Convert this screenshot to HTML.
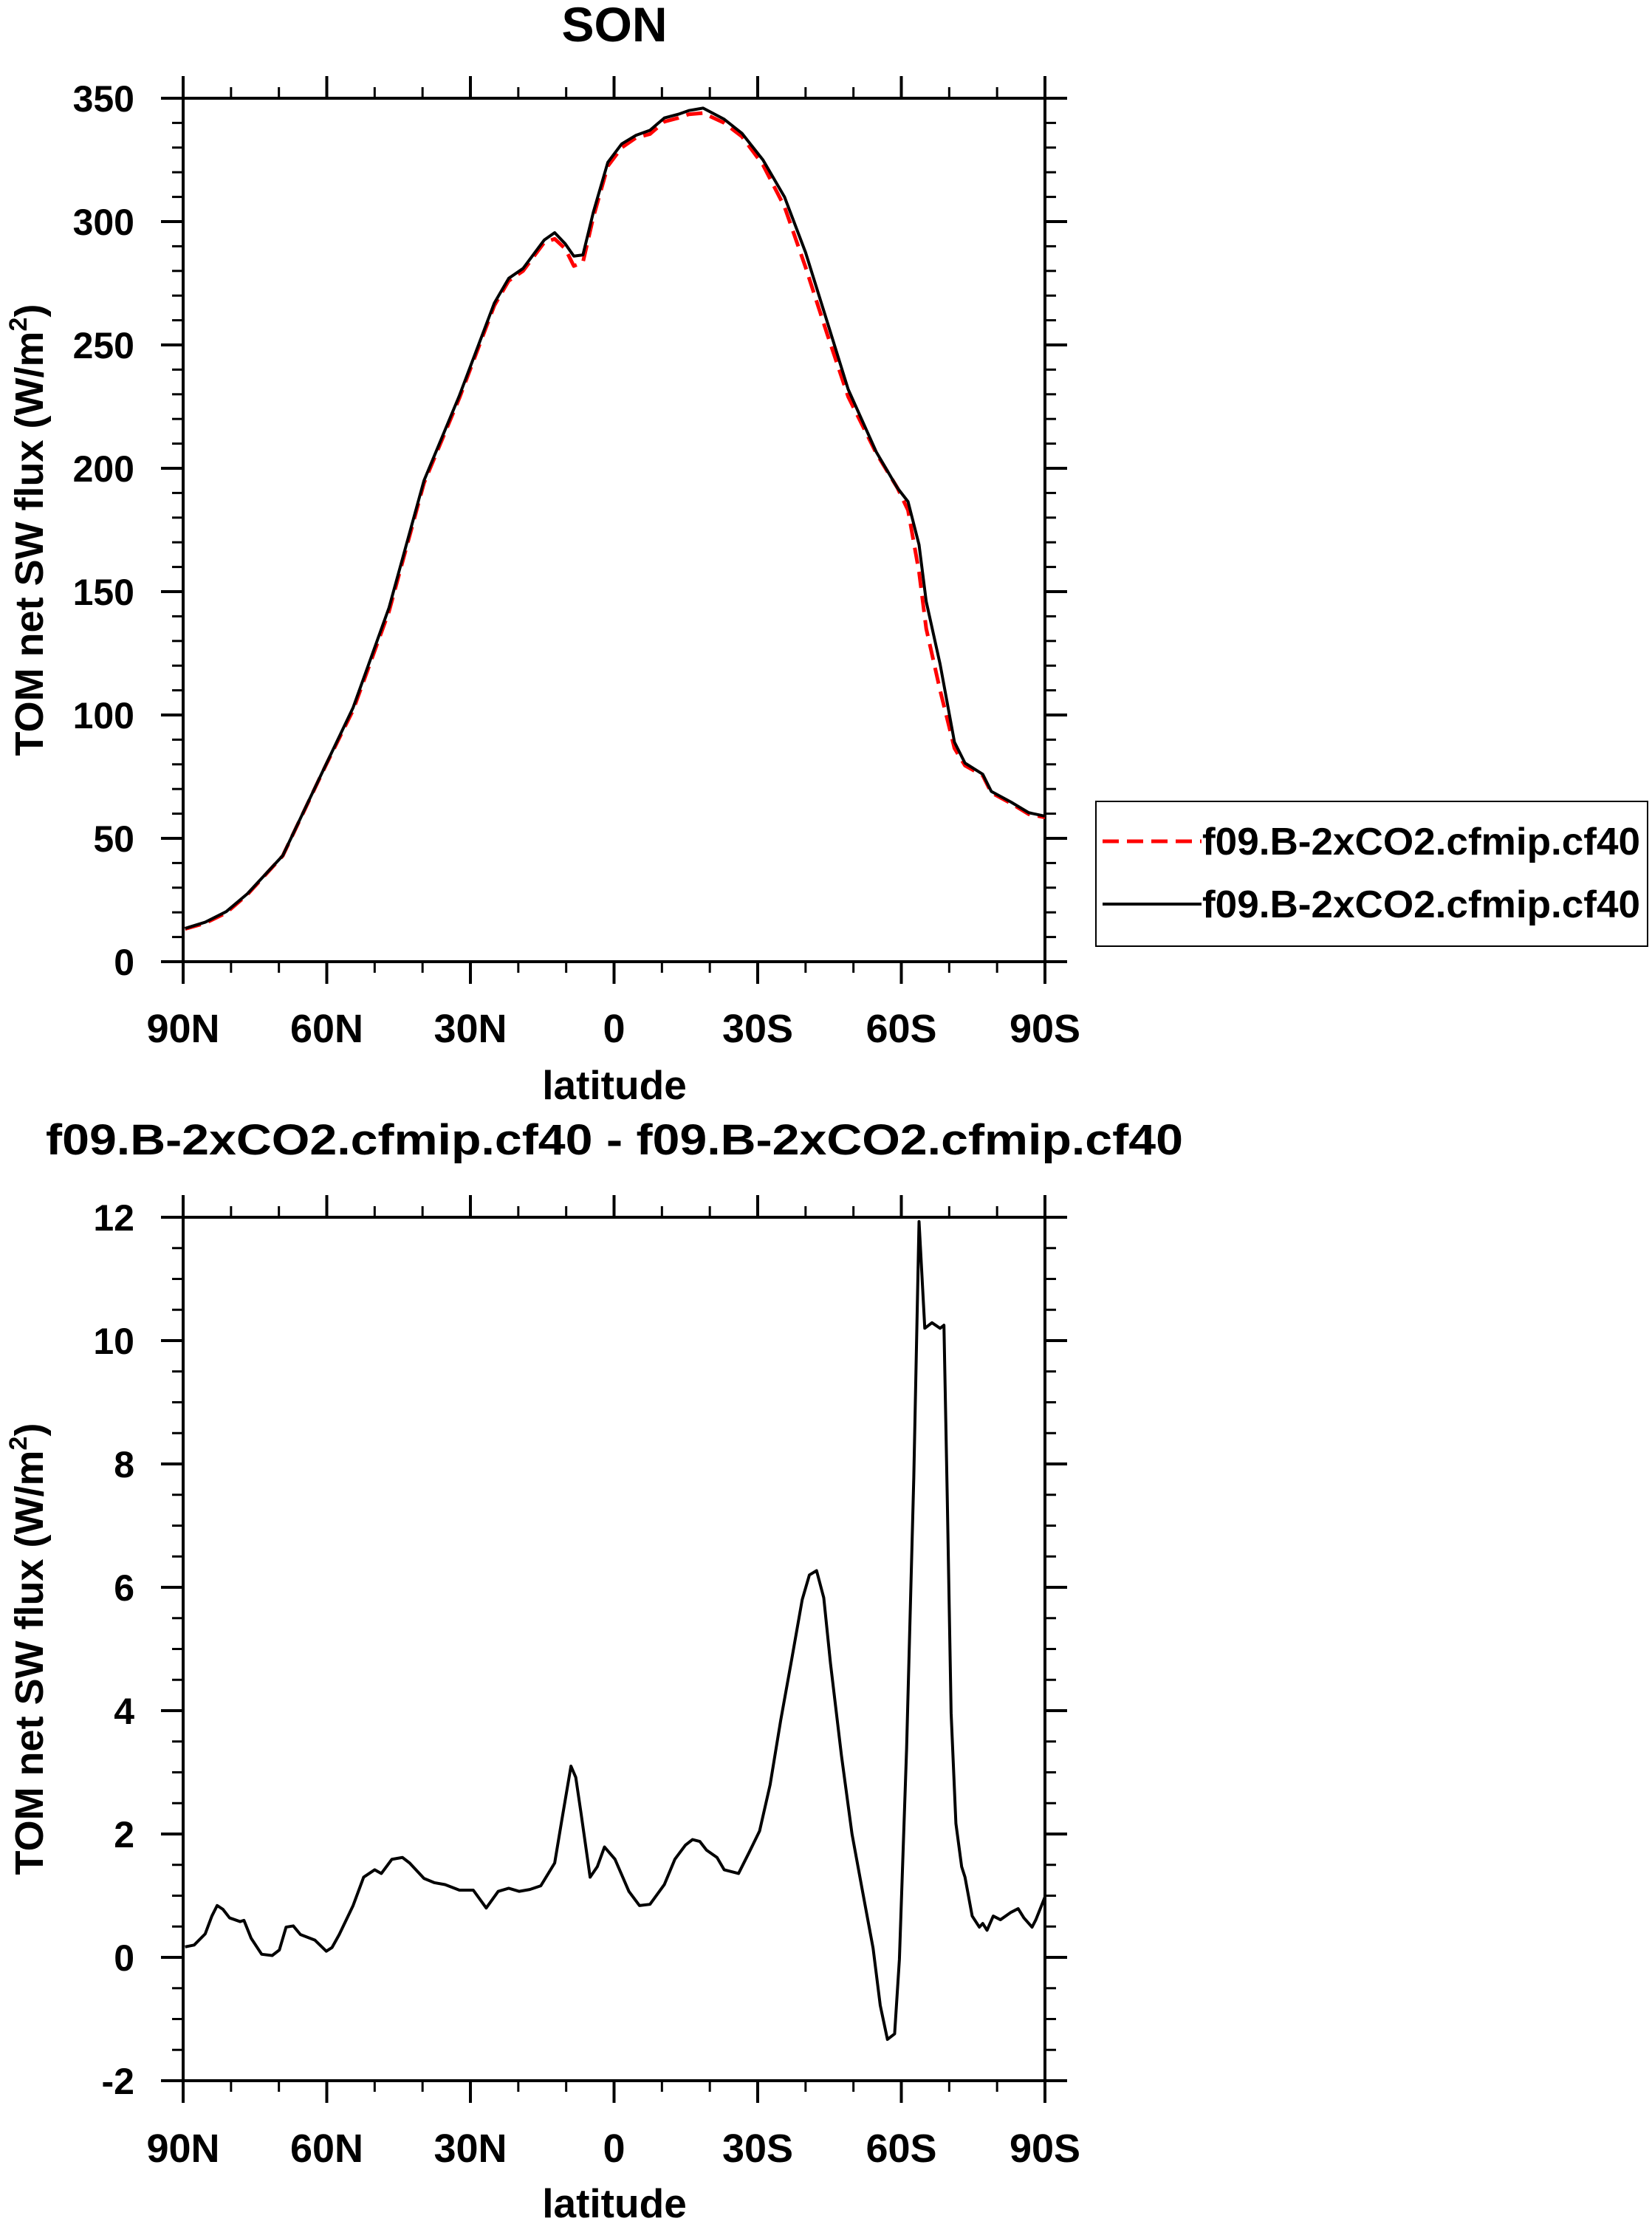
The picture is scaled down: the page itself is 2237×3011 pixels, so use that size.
<!DOCTYPE html>
<html><head><meta charset="utf-8"><style>
html,body{margin:0;padding:0;background:#fff;}
svg{display:block;font-family:"Liberation Sans",Arial,sans-serif;font-weight:bold;}
</style></head><body>
<svg id="chart" width="2237" height="3011" viewBox="0 0 2237 3011" xmlns="http://www.w3.org/2000/svg">
<text x="832" y="56" font-size="66" text-anchor="middle">SON</text>
<text x="62" y="1563" font-size="58" textLength="1540" lengthAdjust="spacingAndGlyphs">f09.B-2xCO2.cfmip.cf40 - f09.B-2xCO2.cfmip.cf40</text>
<g>
<rect x="1484" y="1085" width="747" height="196" fill="none" stroke="#000" stroke-width="2"/>
<line x1="1493" y1="1139" x2="1627" y2="1139" stroke="#ff0000" stroke-width="5" stroke-dasharray="22,11"/>
<text x="1628" y="1157" font-size="52" textLength="593" lengthAdjust="spacingAndGlyphs">f09.B-2xCO2.cfmip.cf40</text>
<line x1="1493" y1="1224" x2="1627" y2="1224" stroke="#000" stroke-width="4"/>
<text x="1628" y="1242" font-size="52" textLength="593" lengthAdjust="spacingAndGlyphs">f09.B-2xCO2.cfmip.cf40</text>
</g>
</svg>
<script>
const latTicks=[90,60,30,0,-30,-60,-90];
const latTickLabels=["90N","60N","30N","0","30S","60S","90S"];
const topYTicks=[0,50,100,150,200,250,300,350];
const botYTicks=[-2,0,2,4,6,8,10,12];
// top panel data (latitude, W/m2)
const topLats=[89.6,85.4,81,76.6,69.2,60.4,54.5,47,39.7,32.3,25,22,19,14.6,12.4,10.2,8.4,6.5,4.3,1.3,-1.6,-4.6,-7.5,-10.5,-13.4,-15.6,-18.6,-23,-26.7,-31.1,-35.6,-40,-44.5,-48.9,-54.8,-59.2,-61.4,-63.7,-65.2,-68.1,-71.1,-73.3,-77,-78.8,-82.9,-86.6,-90];
const blackVals=[13.5,16,20.3,27.5,43,79,103,143.5,195,229.5,267,277,281,292.5,295.5,291,286,286.5,304,324,331.5,335,337,342,343.5,345,346,341.5,335.8,325,310,287.5,259.5,232,206.5,192,186.5,169,146,120.6,89,80.5,76,69,64.7,60.4,59];
const redVals=[13.3,15.6,19.8,27.2,42.9,78.8,102,142,194,228.5,266,276,280,291.5,293,289,282,283.5,302,322.5,330,334,335.5,340.5,342,343.5,344,340,334.5,323,306,281.5,254.5,229,206,192,183,158,135,110,86.5,79.5,75.5,68.5,64.2,59.8,58.5];
// bottom panel difference data
const diffLats=[89.6,87.7,85.4,84,82.9,81.7,80.3,78.1,77.3,75.8,73.6,71.4,69.9,68.5,67,65.5,62.5,60.1,58.9,57.4,54.5,52.3,50,48.6,46.4,44.2,42.7,39.7,37.5,35.3,32.3,29.4,26.7,24.2,22,19.8,17.6,15.3,12.4,10.9,9,8,6.9,5,3.5,2,-0.2,-3.1,-5.3,-7.5,-10.5,-12.7,-14.9,-16.4,-17.9,-19.3,-21.5,-23,-26,-28.2,-30.4,-32.6,-34.8,-37.1,-39.3,-40.8,-42.3,-43.8,-45.2,-47.5,-49.7,-51.9,-54.1,-55.6,-57.1,-58.6,-59.6,-61.1,-62.6,-63.7,-64.9,-66.4,-68.1,-68.9,-69.6,-70.4,-71.4,-72.6,-73.3,-74.8,-76.3,-77,-77.9,-79.2,-80.7,-82.9,-84.4,-85.6,-87.3,-88.1,-90];
const diffVals=[0.17,0.2,0.38,0.67,0.84,0.78,0.64,0.58,0.6,0.31,0.05,0.03,0.12,0.49,0.51,0.37,0.28,0.1,0.16,0.37,0.84,1.3,1.42,1.36,1.59,1.62,1.53,1.28,1.21,1.18,1.09,1.09,0.8,1.07,1.12,1.07,1.1,1.16,1.53,2.23,3.1,2.92,2.34,1.3,1.47,1.79,1.59,1.07,0.84,0.86,1.18,1.59,1.82,1.91,1.88,1.74,1.62,1.42,1.36,1.7,2.05,2.8,3.84,4.83,5.8,6.2,6.27,5.83,4.77,3.27,2.0,1.07,0.15,-0.78,-1.33,-1.24,-0.03,3.38,7.77,11.93,10.2,10.29,10.2,10.25,7.43,3.96,2.17,1.47,1.3,0.67,0.49,0.55,0.44,0.67,0.61,0.73,0.79,0.64,0.49,0.61,0.98];

const svg=document.getElementById('chart');
const NS='http://www.w3.org/2000/svg';
function mk(tag,attrs){const e=document.createElementNS(NS,tag);for(const k in attrs)e.setAttribute(k,attrs[k]);svg.appendChild(e);return e;}
const L=248,R=1415;
function xs(lat){return L+(90-lat)/180*(R-L);}

function panel(pre,top,bot,ymin,ymax,majors,minorStep,ytitleCx,latY,xlabY){
  const ys=v=>bot-(v-ymin)/(ymax-ymin)*(bot-top);
  let e;
  e=mk('rect',{x:L,y:top,width:R-L,height:bot-top,fill:'none',stroke:'#000','stroke-width':4});
  
  
  for(let v=ymin;v<=ymax+1e-9;v+=minorStep){
    const y=ys(v);const isMaj=majors.some(m=>Math.abs(m-v)<1e-6);const len=isMaj?30:15;
    e=mk('line',{x1:L-len,y1:y,x2:L,y2:y,stroke:'#000','stroke-width':isMaj?4:3});
    
    
    e=mk('line',{x1:R,y1:y,x2:R+len,y2:y,stroke:'#000','stroke-width':isMaj?4:3});
    
    
  }
  majors.forEach(v=>{
    e=mk('text',{x:182,y:ys(v)+18,'font-size':50,'text-anchor':'end'});
    e.textContent=String(v);
    
    
  });
  for(let lat=90;lat>=-90;lat-=10){
    const x=xs(lat);const isMaj=latTicks.indexOf(lat)>=0;const len=isMaj?30:15;
    e=mk('line',{x1:x,y1:bot,x2:x,y2:bot+len,stroke:'#000','stroke-width':isMaj?4:3});
    
    
    e=mk('line',{x1:x,y1:top-len,x2:x,y2:top,stroke:'#000','stroke-width':isMaj?4:3});
    
    
  }
  latTicks.forEach((lat,i)=>{
    e=mk('text',{x:xs(lat),y:xlabY,'font-size':54,'text-anchor':'middle'});
    e.textContent=latTickLabels[i];
    
    
  });
  e=mk('text',{x:832,y:latY,'font-size':55,'text-anchor':'middle'});
  e.textContent='latitude';
  
  
  const cy=(top+bot)/2;
  e=mk('text',{x:0,y:0,'font-size':54,'text-anchor':'middle',transform:'translate('+ytitleCx+','+cy+') rotate(-90)'});
  e.innerHTML='TOM net SW flux (W/m<tspan font-size="34" dy="-22">2</tspan><tspan dy="22">)</tspan>';
  
  
  return ys;
}

const ysTop=panel('top',133,1302,0,350,topYTicks,10,58,1488,1411);
let p;
p=mk('polyline',{points:topLats.map((l,i)=>xs(l)+','+ysTop(redVals[i])).join(' '),fill:'none',stroke:'#ff0000','stroke-width':5,'stroke-dasharray':'22,11','stroke-linejoin':'round'});


p=mk('polyline',{points:topLats.map((l,i)=>xs(l)+','+ysTop(blackVals[i])).join(' '),fill:'none',stroke:'#000','stroke-width':4,'stroke-linejoin':'round'});



const ysBot=panel('bottom',1648,2817,-2,12,botYTicks,0.5,58,3002,2927);
p=mk('polyline',{points:diffLats.map((l,i)=>xs(l)+','+ysBot(diffVals[i])).join(' '),fill:'none',stroke:'#000','stroke-width':4,'stroke-linejoin':'round'});


</script>
</body></html>
